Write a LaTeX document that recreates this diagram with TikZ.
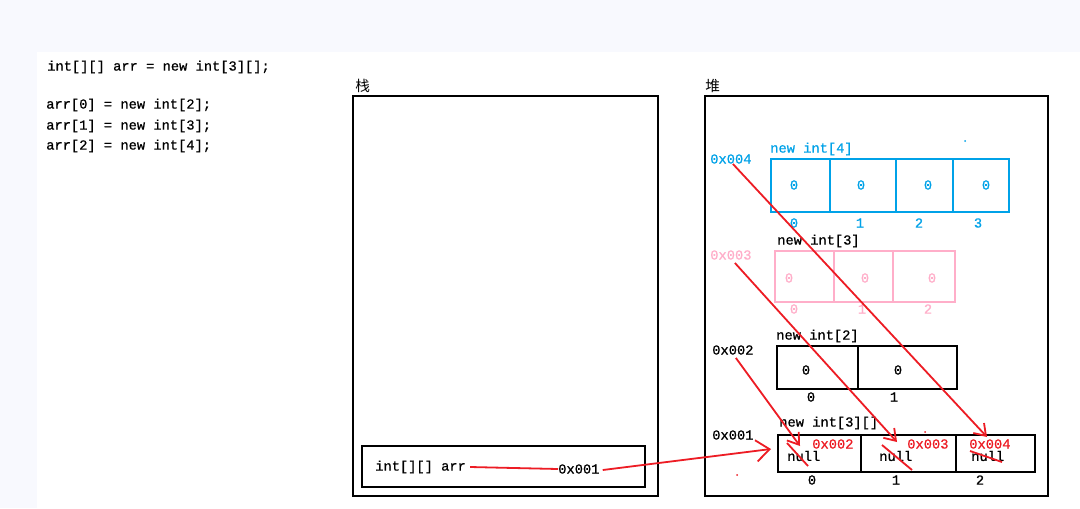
\documentclass[tikz,border=0pt]{standalone}
\usepackage{fontspec}
\newfontfamily\codefont[FakeBold=0.8]{Liberation Mono}
\newfontfamily\cjk{Noto Sans CJK SC}
\usetikzlibrary{arrows.meta}
\definecolor{pred}{HTML}{ED1C24}
\definecolor{pblue}{HTML}{00A2E8}
\definecolor{ppink}{HTML}{FFAEC9}
\definecolor{bgc}{HTML}{F8F9FE}
\begin{document}
\begin{tikzpicture}[x=0.75pt,y=-0.75pt,
  txt/.style={font=\codefont\fontsize{10.3}{12}\selectfont, inner sep=0pt, anchor=west},
  num/.style={font=\codefont\fontsize{10.3}{12}\selectfont, inner sep=0pt, anchor=center},
  zh/.style={font=\cjk\fontsize{11}{13}\selectfont, inner sep=0pt, anchor=west},
  frame/.style={draw, line width=1.5pt},
  cell/.style={draw, line width=1.3pt, anchor=north west, inner sep=0pt},
  ptr/.style={draw=pred, line width=1.35pt},
  ptrarrow/.style={ptr, -{Straight Barb[length=8pt,width=11pt,line width=1.35pt]}}
]
\useasboundingbox (0,0) rectangle (1080,508);
\fill[bgc] (0,0) rectangle (1080,508);
\fill[white] (37,52) rectangle (1080,508);

% code
\node[txt] (l1) at (47,67) {int[][] arr = new int[3][];};
\node[txt] (l2) at (46,105) {arr[0] = new int[2];};
\node[txt] (l3) at (46,126) {arr[1] = new int[3];};
\node[txt] (l4) at (46,146) {arr[2] = new int[4];};

% stack and heap frames
\node[zh] (zlab) at (355,86) {栈};
\node[zh] (dlab) at (705,86) {堆};
\node[frame, anchor=north west, inner sep=0pt, minimum width=305*0.75pt, minimum height=400*0.75pt] (stack) at (352,95) {};
\node[frame, anchor=north west, inner sep=0pt, minimum width=343*0.75pt, minimum height=400*0.75pt] (heap) at (704,95) {};

% stack variable
\node[frame, anchor=north west, inner sep=0pt, minimum width=283*0.75pt, minimum height=41*0.75pt] (var) at (361,445) {};
\node[txt] (sarr) at (375,467) {int[][] arr};
\node[txt] (saddr) at (558,469) {0x001};

% new int[4] (blue)
\node[txt, pblue] (a4) at (710,159) {0x004};
\node[txt, pblue] (t4) at (770,149) {new int[4]};
\node[cell, pblue, minimum width=59*0.75pt, minimum height=53*0.75pt] (b0) at (770,158) {};
\node[cell, pblue, minimum width=66*0.75pt, minimum height=53*0.75pt] (b1) at (829,158) {};
\node[cell, pblue, minimum width=57*0.75pt, minimum height=53*0.75pt] (b2) at (895,158) {};
\node[cell, pblue, minimum width=56*0.75pt, minimum height=53*0.75pt] (b3) at (952,158) {};
\foreach \x/\n in {794/0,861/1,928/2,986/3} \node[num, pblue] (bv\n) at (\x,185) {0};
\node[num, pblue] (bi0) at (794,223) {0};
\node[num, pblue] (bi1) at (860,223) {1};
\node[num, pblue] (bi2) at (919,223) {2};
\node[num, pblue] (bi3) at (978,223) {3};
\fill[pblue] (965,141) circle (1);

% new int[3] (pink)
\node[txt, ppink] (a3) at (710,255) {0x003};
\node[txt] (t3) at (777,241) {new int[3]};
\node[cell, ppink, minimum width=59*0.75pt, minimum height=51*0.75pt] (p0) at (774,250) {};
\node[cell, ppink, minimum width=59*0.75pt, minimum height=51*0.75pt] (p1) at (833,250) {};
\node[cell, ppink, minimum width=62*0.75pt, minimum height=51*0.75pt] (p2) at (892,250) {};
\node[num, ppink] (pv0) at (789,278) {0};
\node[num, ppink] (pv1) at (865,278) {0};
\node[num, ppink] (pv2) at (932,278) {0};
\node[num, ppink] (pi0) at (794,309) {0};
\node[num, ppink] (pi1) at (862,309) {1};
\node[num, ppink] (pi2) at (928,309) {2};

% new int[2] (black)
\node[txt] (a2) at (712,350) {0x002};
\node[txt] (t2) at (776,336) {new int[2]};
\node[cell, minimum width=81*0.75pt, minimum height=43*0.75pt] (k0) at (776,345) {};
\node[cell, minimum width=99*0.75pt, minimum height=43*0.75pt] (k1) at (857,345) {};
\node[num] (kv0) at (806,370) {0};
\node[num] (kv1) at (898,370) {0};
\node[num] (ki0) at (811,397) {0};
\node[num] (ki1) at (894,397) {1};

% new int[3][] (outer)
\node[txt] (a1) at (712,435) {0x001};
\node[txt] (t1) at (779,423) {new int[3][]};
\node[cell, minimum width=83*0.75pt, minimum height=37*0.75pt] (o0) at (777,434) {};
\node[cell, minimum width=95*0.75pt, minimum height=37*0.75pt] (o1) at (860,434) {};
\node[cell, minimum width=79*0.75pt, minimum height=37*0.75pt] (o2) at (955,434) {};
\node[txt] (n0) at (787,456) {null};
\node[txt] (n1) at (879,456) {null};
\node[txt] (n2) at (971,456) {null};
\node[txt, pred] (r0) at (812,444) {0x002};
\node[txt, pred] (r1) at (907,444) {0x003};
\node[txt, pred] (r2) at (969,444) {0x004};
\node[num] (oi0) at (812,480) {0};
\node[num] (oi1) at (896,480) {1};
\node[num] (oi2) at (980,480) {2};

% pointer ends
\coordinate (e1) at (771,449);
\coordinate (e2) at (800,446);
\coordinate (e3) at (897,442);
\coordinate (e4) at (987,437);

% red connectors
\draw[ptr] (sarr.east) ++(4,0) -- (saddr.west);
\draw[ptr, -{Straight Barb[length=10pt,width=16pt,line width=1.35pt]}] (saddr.east) ++(3,1) -- (e1);
\draw[ptrarrow] (a2.south) ++(3,3) -- (e2);
\draw[ptrarrow] (a3.south) ++(4,3) -- (e3);
\draw[ptrarrow] (a4.south) ++(2,0) -- (e4);

% strike marks over null
\draw[ptr] (787,443) -- (808,466);
\draw[ptr] (882,445) -- (912,470);
\draw[ptr] (970,451) -- (1002,462);
\fill[pred] (925,432) circle (1);
\fill[pred] (737,475) circle (1);
\end{tikzpicture}
\end{document}
